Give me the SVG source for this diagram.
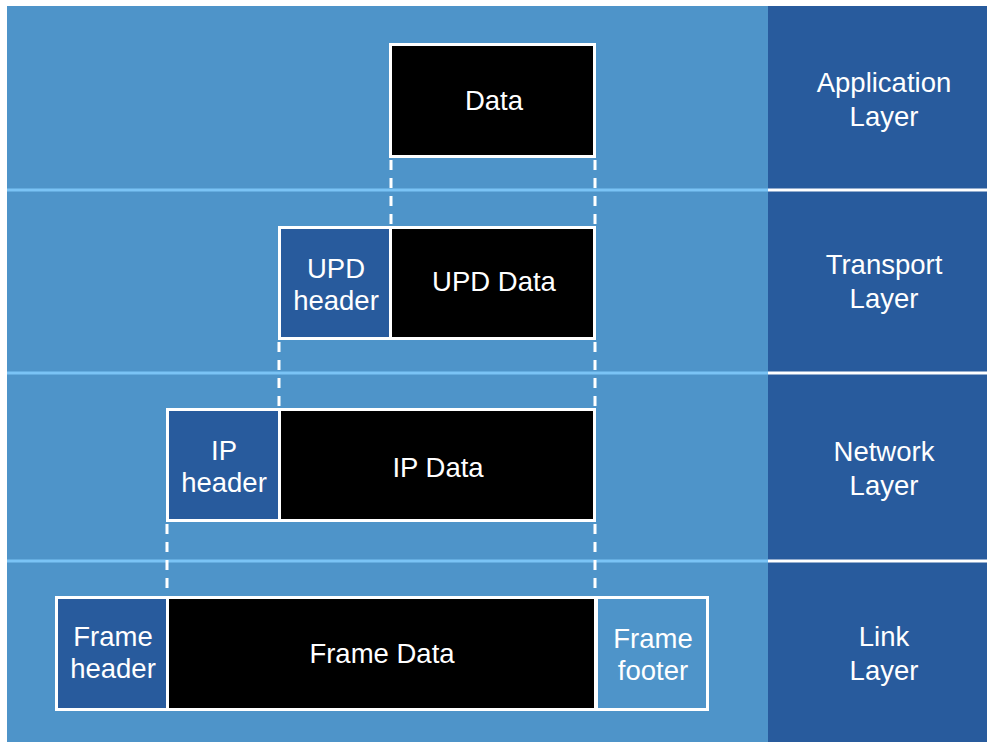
<svg xmlns="http://www.w3.org/2000/svg" width="987" height="742" viewBox="0 0 987 742">
<style>
.bg{fill:#4e94c9}
.side{fill:#285b9d}
.sep{stroke:#7ac3f5;stroke-width:3}
.sepw{stroke:#ffffff;stroke-width:3}
.box{stroke:#ffffff;stroke-width:3}
.data{fill:#000000}
.hdr{fill:#285b9d}
.ftr{fill:#4e94c9}
.dash{stroke:#ffffff;stroke-width:3;stroke-dasharray:10 8;fill:none}
text{font-family:"Helvetica Neue","Liberation Sans",Arial,sans-serif;fill:#ffffff;font-size:27.5px;text-anchor:middle}
</style>
<rect class="bg" x="7" y="6" width="761" height="736"/>
<rect class="side" x="768" y="6" width="219" height="736"/>
<g id="separators">
<line class="sep" x1="7" y1="190" x2="768" y2="190"/>
<line class="sepw" x1="768" y1="190" x2="987" y2="190"/>
<line class="sep" x1="7" y1="373" x2="768" y2="373"/>
<line class="sepw" x1="768" y1="373" x2="987" y2="373"/>
<line class="sep" x1="7" y1="561" x2="768" y2="561"/>
<line class="sepw" x1="768" y1="561" x2="987" y2="561"/>
</g>
<g id="connectors">
<line class="dash" x1="391" y1="160" x2="391" y2="225"/>
<line class="dash" x1="595" y1="160" x2="595" y2="225"/>
<line class="dash" x1="279" y1="342" x2="279" y2="407"/>
<line class="dash" x1="595" y1="342" x2="595" y2="407"/>
<line class="dash" x1="167" y1="524" x2="167" y2="596"/>
<line class="dash" x1="595" y1="524" x2="595" y2="596"/>
</g>
<g id="labels">
<text x="884" y="92">Application</text>
<text x="884" y="126">Layer</text>
<text x="884" y="274">Transport</text>
<text x="884" y="308">Layer</text>
<text x="884" y="461">Network</text>
<text x="884" y="495">Layer</text>
<text x="884" y="646">Link</text>
<text x="884" y="680">Layer</text>
</g>
<g id="data">
<rect class="box data" x="390.5" y="44.5" width="204" height="112"/>
<text x="494" y="110">Data</text>
</g>
<g id="upd-header">
<rect class="box hdr" x="279.5" y="227.5" width="111" height="111"/>
<text x="336" y="278">UPD</text>
<text x="336" y="310">header</text>
</g>
<g id="upd-data">
<rect class="box data" x="390.5" y="227.5" width="204" height="111"/>
<text x="494" y="291">UPD Data</text>
</g>
<g id="ip-header">
<rect class="box hdr" x="167.5" y="409.5" width="112" height="111"/>
<text x="224" y="460">IP</text>
<text x="224" y="492">header</text>
</g>
<g id="ip-data">
<rect class="box data" x="279.5" y="409.5" width="315" height="111"/>
<text x="438" y="477">IP Data</text>
</g>
<g id="frame-header">
<rect class="box hdr" x="56.5" y="597.5" width="111" height="112"/>
<text x="113" y="646">Frame</text>
<text x="113" y="678">header</text>
</g>
<g id="frame-data">
<rect class="box data" x="167.5" y="597.5" width="428" height="112"/>
<text x="382" y="663">Frame Data</text>
</g>
<g id="frame-footer">
<rect class="box ftr" x="596.5" y="597.5" width="111" height="112"/>
<text x="653" y="648">Frame</text>
<text x="653" y="680">footer</text>
</g>
</svg>
